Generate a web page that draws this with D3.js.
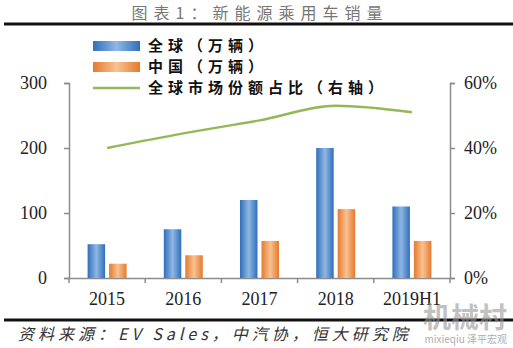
<!DOCTYPE html>
<html>
<head>
<meta charset="utf-8">
<script src="https://cdn.jsdelivr.net/npm/d3@7"></script>
<style>
  body { margin: 0; background: #fff; }
  svg { display: block; }
</style>
</head>
<body>
<svg id="chart"></svg>
<script>
// données
const years = ['2015', '2016', '2017', '2018', '2019H1'];
const globalSales = [52, 75, 120, 200, 110];
const chinaSales = [22, 35, 57, 106, 57];
const globalShare = [0.40, 0.445, 0.485, 0.53, 0.51];
const leftTicks = [0, 100, 200, 300];
const rightTicks = [0, 0.2, 0.4, 0.6];

const W = 513, H = 348;
const margin = { top: 83, right: 63, bottom: 70, left: 69 },
    width = W - margin.left - margin.right,
    height = H - margin.top - margin.bottom;

const svg = d3.select('#chart').attr('width', W).attr('height', H);
const cjk = '"Noto Sans CJK SC", sans-serif';
const serif = '"Liberation Serif", "DejaVu Serif", serif';

// dégradés des barres
const defs = svg.append('defs');
function grad(id, edge, mid) {
    const g = defs.append('linearGradient').attr('id', id)
        .attr('x1', '0%').attr('x2', '100%').attr('y1', '0%').attr('y2', '0%');
    g.append('stop').attr('offset', '0%').attr('stop-color', edge);
    g.append('stop').attr('offset', '50%').attr('stop-color', mid);
    g.append('stop').attr('offset', '100%').attr('stop-color', edge);
}
grad('gBlue', '#2f6fba', '#8fb7e4');
grad('gOrange', '#e57a2e', '#f9c291');

// titre et filets
svg.append('text').attr('x', 260).attr('y', 19).attr('text-anchor', 'middle')
    .style('font-family', cjk).style('font-size', '16px').attr('fill', '#777')
    .style('letter-spacing', '6px').text('图表1：新能源乘用车销量');
svg.append('line').attr('x1', 4).attr('x2', W).attr('y1', 24).attr('y2', 24)
    .attr('stroke', '#111').attr('stroke-width', 3);
svg.append('line').attr('x1', 4).attr('x2', W).attr('y1', 320).attr('y2', 320)
    .attr('stroke', '#111').attr('stroke-width', 3);

const g = svg.append('g').attr('transform', `translate(${margin.left},${margin.top})`);

// échelles
const x = d3.scaleBand().domain(years).range([0, width]);
const y = d3.scaleLinear().domain([0, 300]).range([height, 0]);
const y2 = d3.scaleLinear().domain([0, 0.6]).range([height, 0]);
const barW = 17.5, gap = 4;

// axes
function styleAxis(sel) {
    sel.select('.domain').attr('stroke', '#8c8c8c').attr('stroke-width', 1.5);
    sel.selectAll('.tick line').attr('stroke', '#8c8c8c').attr('stroke-width', 1.5);
    sel.selectAll('text').style('font-family', serif).style('font-size', '18px').attr('fill', '#222');
}
g.append('g').call(d3.axisLeft(y).tickValues(leftTicks).tickSize(5).tickPadding(17))
    .call(styleAxis);
g.append('g').attr('transform', `translate(${width},0)`)
    .call(d3.axisRight(y2).tickValues(rightTicks).tickFormat(d3.format('.0%')).tickSize(5).tickPadding(9))
    .call(styleAxis);
const xa = g.append('g').attr('transform', `translate(0,${height})`)
    .call(d3.axisBottom(x).tickSize(0).tickPadding(14));
styleAxis(xa);
// graduations entre catégories
xa.selectAll('.sep').data(d3.range(years.length + 1)).join('line')
    .attr('x1', i => i * x.bandwidth()).attr('x2', i => i * x.bandwidth())
    .attr('y1', 0).attr('y2', 5).attr('stroke', '#8c8c8c').attr('stroke-width', 1.5);

// barres
const cx = d => x(d) + x.bandwidth() / 2;
g.selectAll('.bBlue').data(years).join('rect')
    .attr('x', d => cx(d) - gap / 2 - barW)
    .attr('y', (d, i) => y(globalSales[i]))
    .attr('width', barW)
    .attr('height', (d, i) => height - y(globalSales[i]))
    .attr('fill', 'url(#gBlue)');
g.selectAll('.bOrange').data(years).join('rect')
    .attr('x', d => cx(d) + gap / 2)
    .attr('y', (d, i) => y(chinaSales[i]))
    .attr('width', barW)
    .attr('height', (d, i) => height - y(chinaSales[i]))
    .attr('fill', 'url(#gOrange)');

// courbe part de marché
const line = d3.line().x((d, i) => cx(years[i])).y(d => y2(d)).curve(d3.curveMonotoneX);
g.append('path').datum(globalShare).attr('d', line)
    .attr('fill', 'none').attr('stroke', '#93b957').attr('stroke-width', 2.5);

// légende
const leg = svg.append('g');
const items = [
    { label: '全球（万辆）', type: 'bar', fill: 'url(#gBlue)', y: 46 },
    { label: '中国（万辆）', type: 'bar', fill: 'url(#gOrange)', y: 67 },
    { label: '全球市场份额占比（右轴）', type: 'line', fill: '#93b957', y: 88 }
];
items.forEach(it => {
    if (it.type === 'bar') {
        leg.append('rect').attr('x', 93).attr('y', it.y - 5).attr('width', 47).attr('height', 10).attr('fill', it.fill);
    } else {
        leg.append('line').attr('x1', 93).attr('x2', 140).attr('y1', it.y).attr('y2', it.y)
            .attr('stroke', it.fill).attr('stroke-width', 2.5);
    }
    leg.append('text').attr('x', 148).attr('y', it.y).attr('dy', '0.36em')
        .style('font-family', cjk).style('font-size', '15px').style('font-weight', 'bold')
        .style('letter-spacing', '5px').attr('fill', '#111').text(it.label);
});

// source
svg.append('text').attr('x', 18).attr('y', 340)
    .style('font-family', cjk).style('font-size', '16px').style('font-style', 'italic')
    .style('letter-spacing', '4px').attr('fill', '#333').text('资料来源：EV Sales，中汽协，恒大研究院');

// filigrane
svg.append('text').attr('x', 507).attr('y', 328).attr('text-anchor', 'end')
    .style('font-family', cjk).style('font-size', '28px').style('font-weight', 'bold')
    .attr('fill', '#999').attr('opacity', 0.6).text('机械村');
svg.append('text').attr('x', 507).attr('y', 343).attr('text-anchor', 'end')
    .style('font-family', cjk).style('font-size', '10px')
    .attr('fill', '#999').attr('opacity', 0.8).text('mixieqiu 泽平宏观');
</script>
</body>
</html>
